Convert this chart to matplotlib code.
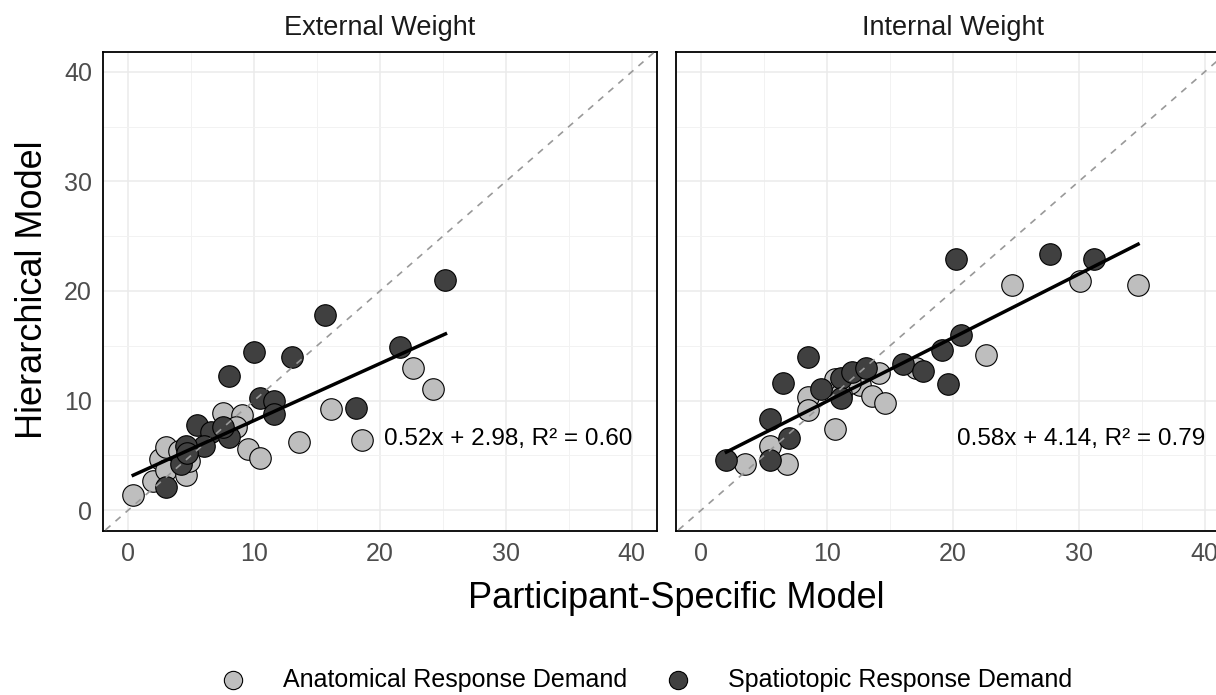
import numpy as np
import matplotlib
matplotlib.use("Agg")
import matplotlib.pyplot as plt
from matplotlib.ticker import MultipleLocator

plt.rcParams['font.family'] = ['Liberation Sans', 'DejaVu Sans']

# ---- data ----
panels = ["External Weight", "Internal Weight"]

ext_anat_x = [0.4, 2.0, 2.5, 3.0, 3.0, 4.0, 4.6, 4.8, 7.5, 9.0, 8.6, 9.5, 10.5, 13.6, 16.1, 18.6, 22.6, 24.2]
ext_anat_y = [1.4, 2.7, 4.7, 5.8, 3.7, 5.4, 3.2, 4.5, 8.9, 8.7, 7.6, 5.6, 4.8, 6.2, 9.2, 6.4, 13.0, 11.1]
ext_spat_x = [25.2, 15.6, 21.6, 10.0, 13.0, 8.0, 10.5, 11.6, 11.6, 18.1, 5.5, 6.6, 6.0, 8.0, 7.5, 4.6, 4.2, 3.0, 4.7]
ext_spat_y = [21.0, 17.8, 14.9, 14.4, 14.0, 12.2, 10.2, 10.0, 8.8, 9.3, 7.8, 7.1, 5.9, 6.7, 7.6, 5.9, 4.2, 2.1, 5.2]

int_anat_x = [24.7, 30.1, 34.7, 22.6, 17.1, 14.1, 12.6, 13.6, 14.6, 10.6, 11.8, 8.5, 8.5, 10.6, 11.1, 5.5, 3.5, 6.8]
int_anat_y = [20.5, 20.9, 20.5, 14.2, 13.0, 12.5, 11.4, 10.4, 9.8, 12.0, 11.6, 10.3, 9.1, 7.4, 10.6, 5.9, 4.2, 4.2]
int_spat_x = [20.2, 27.7, 31.2, 20.6, 19.1, 19.6, 8.5, 6.5, 9.5, 11.1, 12.0, 13.1, 16.0, 17.6, 11.1, 5.5, 7.0, 2.0, 5.5]
int_spat_y = [22.9, 23.4, 22.9, 16.0, 14.6, 11.5, 14.0, 11.6, 11.1, 12.1, 12.6, 13.0, 13.3, 12.7, 10.2, 8.3, 6.6, 4.6, 4.6]

fit_slope = [0.52, 0.58]
fit_intercept = [2.98, 4.14]
fit_r2 = [0.60, 0.79]

anat_col = "#BEBEBE"
spat_col = "#404040"

fig = plt.figure(figsize=(12.16, 6.95), dpi=100)
W, H = 1216, 695
# right panel runs past the right edge, as in the reference
ax_left = fig.add_axes([103 / W, 1 - 531 / H, 554 / W, 479 / H])
ax_right = fig.add_axes([676 / W, 1 - 531 / H, 554 / W, 479 / H])

data = [
    (ext_anat_x, ext_anat_y, ext_spat_x, ext_spat_y),
    (int_anat_x, int_anat_y, int_spat_x, int_spat_y),
]

handles = []
for i, ax in enumerate([ax_left, ax_right]):
    ax_, ay_, sx_, sy_ = data[i]
    h1 = ax.scatter(ax_, ay_, s=240, c=anat_col, edgecolors="black", linewidths=0.8, zorder=3)
    h2 = ax.scatter(sx_, sy_, s=240, c=spat_col, edgecolors="black", linewidths=0.8, zorder=3)
    if i == 0:
        handles = [h1, h2]

    # identity line
    ax.plot([-5, 50], [-5, 50], ls=(0, (4, 4)), color="#999999", lw=1.2, zorder=4)

    # regression line over data range
    allx = np.array(list(ax_) + list(sx_))
    xx = np.array([allx.min(), allx.max()])
    ax.plot(xx, fit_slope[i] * xx + fit_intercept[i], color="black", lw=2.5, zorder=5)

    ax.text(30.2, 6.5, f"{fit_slope[i]:.2f}x + {fit_intercept[i]:.2f}, R² = {fit_r2[i]:.2f}",
            ha="center", va="center", fontsize=17.5, color="black", zorder=6)

    ax.set_xlim(-2, 42)
    ax.set_ylim(-1.9, 41.8)
    ax.xaxis.set_major_locator(MultipleLocator(10))
    ax.yaxis.set_major_locator(MultipleLocator(10))
    ax.xaxis.set_minor_locator(MultipleLocator(5))
    ax.yaxis.set_minor_locator(MultipleLocator(5))
    ax.grid(which="major", color="#EBEBEB", lw=1.1, zorder=0)
    ax.grid(which="minor", color="#F2F2F2", lw=0.7, zorder=0)
    ax.set_axisbelow(True)
    ax.tick_params(which="both", length=0, labelsize=18, labelcolor="#4D4D4D", pad=8)
    for sp in ax.spines.values():
        sp.set_color("black")
        sp.set_linewidth(1.3)
    ax.set_title(panels[i], fontsize=19.5, color="#1A1A1A", pad=12)

ax_right.tick_params(labelleft=False)

fig.text(33 / W, 1 - 290 / H, "Hierarchical Model", rotation=90, ha="center", va="center", fontsize=26)
fig.text(676 / W, 1 - 598 / H, "Participant-Specific Model", ha="center", va="center", fontsize=26)

fig.legend(handles, ["Anatomical Response Demand", "Spatiotopic Response Demand"],
           loc="center", bbox_to_anchor=(640 / W, 1 - 680 / H), ncol=2, frameon=False,
           fontsize=18, markerscale=0.85, handletextpad=1.0, columnspacing=1.0)

fig.savefig("out.png", dpi=100)
